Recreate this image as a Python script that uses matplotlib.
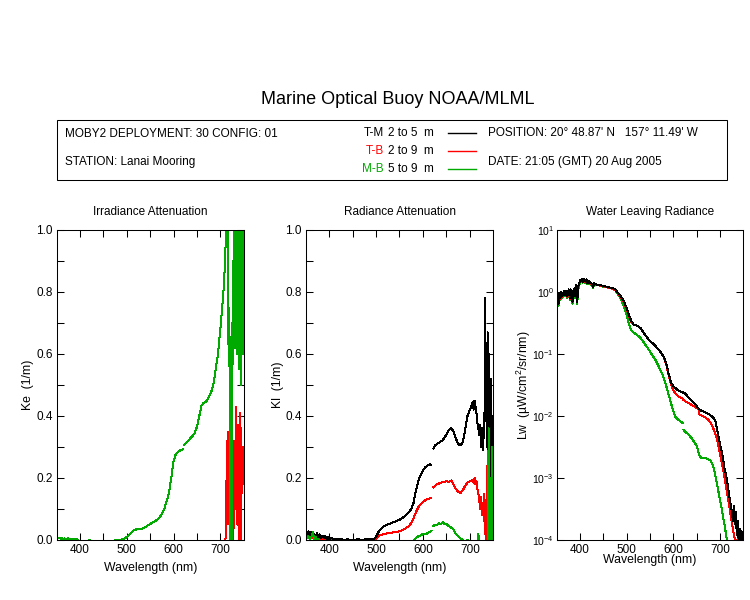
import numpy as np
import matplotlib
matplotlib.use("Agg")
import matplotlib.pyplot as plt
from matplotlib.patches import Rectangle
from matplotlib.ticker import MultipleLocator, NullLocator, FixedLocator

## header text
title = "Marine Optical Buoy NOAA/MLML"
deployment = "MOBY2 DEPLOYMENT: 30 CONFIG: 01"
station = "STATION: Lanai Mooring"
position = "POSITION: 20\u00b0 48.87' N   157\u00b0 11.49' W"
date = "DATE: 21:05 (GMT) 20 Aug 2005"
pair_names = ["T-M", "T-B", "M-B"]
pair_depths = ["2 to 5  m", "2 to 9  m", "5 to 9  m"]

## Ke (irradiance attenuation), 1/m
ke_wl_mb_blue = [350, 353, 356, 359, 362, 365, 368, 371, 374, 377, 380, 383, 386, 389, 392, 395,
	400, 410, 420, 423, 430, 450, 470,
	475, 480, 485, 490, 495, 500, 505, 510, 515, 520, 525, 530, 535, 540, 545, 550, 555, 560,
	565, 570, 575, 580, 585, 590, 595, 600, 605, 610, 615, 620]
ke_mb_blue = [0.008, 0.006, 0.007, 0.004, 0.006, 0.003, 0.005, 0.002, 0.006, 0.003, 0.004, 0.001, 0.004, 0.002, 0.003, 0.001,
	-0.01, -0.01, 0.001, -0.01, -0.01, -0.01, -0.01,
	0.001, 0.001, 0.001, 0.002, 0.005, 0.01, 0.017, 0.025, 0.032, 0.034, 0.034, 0.035, 0.038, 0.042, 0.047, 0.052, 0.056, 0.06,
	0.066, 0.072, 0.085, 0.1, 0.125, 0.15, 0.2, 0.255, 0.278, 0.285, 0.29, 0.292]
ke_wl_mb_red = [622, 630, 640, 645, 650, 655, 660, 665, 670, 675, 680, 685, 690, 695, 700, 705, 708, 710, 712,
	713, 714, 715, 716, 717, 718, 719, 720, 721, 722, 723, 724, 725, 726, 727, 728, 729, 730, 731,
	732, 733, 734, 735, 736, 737, 738, 739, 740, 741, 742, 743, 744, 745, 746, 747, 748, 749, 750]
ke_mb_red = [0.306, 0.318, 0.335, 0.345, 0.365, 0.4, 0.435, 0.443, 0.447, 0.46, 0.475, 0.5, 0.55, 0.6, 0.68, 0.77, 0.83, 0.9, 0.98,
	1.05, 0.98, 1.1, 0.85, 0.7, 0.56, 0.75, 0.6, -0.05, 0.62, 0.45, -0.05, 0.7, 0.55, 0.9, 0.6, 1.1, 0.65, 0.95,
	0.62, 1.05, 0.7, 0.9, 0.6, 1.1, 0.63, 0.85, 0.55, 1.05, 0.7, 0.95, 0.5, 1.1, 0.65, 0.9, 0.6, 1.0, 0.65]
ke_wl_tb_red = [708, 709, 710, 711, 712, 713, 714, 715, 716, 717, 718, 719, 720, 721, 722, 723, 724, 725, 726, 727, 728,
	729, 730, 731, 732, 733, 734, 735, 736, 737, 738, 739, 740, 741, 742, 743, 744, 745, 746, 747, 748, 749, 750]
ke_tb_red = [-0.02, -0.02, -0.02, 0.0, 0.08, 0.19, 0.1, 0.32, 0.05, 0.35, 0.13, 0.2, -0.02, 0.1, 0.02, 0.16, 0.05, 0.2, -0.02, 0.28, 0.08,
	0.32, 0.04, 0.3, 0.1, 0.17, 0.43, 0.05, 0.35, 0.12, 0.37, 0.0, 0.3, 0.18, 0.08, 0.41, -0.02, 0.36, 0.15, 0.3, 0.19, 0.3, 0.18]

## Kl (radiance attenuation), 1/m
kl_wl_blue = [350, 353, 356, 359, 362, 365, 368, 371, 374, 377, 380, 383, 386, 389, 392, 395, 398, 401,
	405, 410, 420, 430, 440, 450, 460, 470, 480, 490,
	495, 500, 505, 510, 515, 520,
	530, 540, 550, 560,
	565, 570, 575, 580, 585, 590, 595, 600, 605, 610, 615, 618]
kl_tm_blue = [0.03, 0.02, 0.028, 0.015, 0.025, 0.012, 0.02, 0.01, 0.022, 0.008, 0.018, 0.006, 0.014, 0.005, 0.012, 0.004, 0.01, 0.003,
	0.006, 0.002, 0.004, 0.001, 0.002, 0.0, 0.002, 0.001, 0.002, 0.002,
	0.003, 0.01, 0.025, 0.035, 0.043, 0.047,
	0.053, 0.059, 0.065, 0.075,
	0.082, 0.09, 0.1, 0.12, 0.16, 0.19, 0.21, 0.225, 0.235, 0.24, 0.244, 0.243]
kl_tb_blue = [0.02, 0.012, 0.018, 0.008, 0.015, 0.006, 0.012, 0.004, 0.01, 0.003, 0.008, 0.002, 0.006, 0.002, 0.005, 0.001, 0.003, 0.001,
	0.002, 0.001, 0.002, 0.0, 0.001, 0.001, 0.0, 0.001, 0.001, 0.001,
	0.002, 0.005, 0.012, 0.016, 0.018, 0.02,
	0.023, 0.025, 0.028, 0.035,
	0.04, 0.045, 0.055, 0.07, 0.09, 0.105, 0.115, 0.122, 0.128, 0.132, 0.135, 0.136]
kl_mb_blue = [0.015, 0.005, 0.012, 0.002, 0.008, 0.025, 0.003, 0.01, -0.005, 0.004, -0.01, -0.01, -0.01, -0.01, -0.01, -0.01, -0.01, -0.01,
	-0.01, -0.01, -0.01, -0.01, -0.01, -0.01, -0.01, -0.01, -0.01, -0.01,
	-0.01, -0.01, -0.01, -0.01, -0.01, -0.01,
	-0.01, -0.01, -0.01, -0.01,
	-0.01, -0.008, -0.005, -0.001, 0.006, 0.012, 0.015, 0.02, 0.018, 0.022, 0.027, 0.03]
kl_wl_red = [622, 626, 630, 634, 638, 642, 646, 650,
	655, 660, 665, 670, 675, 680, 685, 690, 695, 700,
	703, 706,
	708, 710, 712, 714, 716, 718, 720, 722, 724, 726, 728, 730,
	731, 732, 733, 734, 735, 736, 737, 738, 739, 740, 741, 742, 743, 744, 745, 746, 747, 748, 749, 750]
kl_tm_red = [0.295, 0.305, 0.31, 0.313, 0.318, 0.322, 0.33, 0.34,
	0.355, 0.362, 0.35, 0.328, 0.31, 0.305, 0.315, 0.355, 0.4, 0.42,
	0.43, 0.445,
	0.42, 0.45, 0.43, 0.41, 0.38, 0.36, 0.34, 0.37, 0.3, 0.36, 0.29, 0.41,
	0.33, 0.55, 0.78, 0.4, 0.5, 0.3, 0.52, 0.67, 0.25, 0.6, 0.36, 0.5, 0.2, 0.46, 0.52, 0.28, 0.4, 0.2, 0.36, 0.24]
kl_tb_red = [0.17, 0.175, 0.18, 0.182, 0.185, 0.186, 0.188, 0.19,
	0.188, 0.192, 0.18, 0.165, 0.155, 0.152, 0.16, 0.175, 0.185, 0.19,
	0.192, 0.195,
	0.185, 0.2, 0.18, 0.19, 0.165, 0.15, 0.13, 0.1, 0.14, 0.08, 0.12, 0.06,
	0.15, 0.02, 0.1, 0.0, 0.13, 0.05, 0.24, 0.1, 0.18, 0.03, 0.22, 0.14, 0.2, 0.07, 0.28, 0.1, 0.25, 0.03, 0.2, 0.12]
kl_mb_red = [0.045, 0.05, 0.048, 0.055, 0.05, 0.058, 0.05, 0.052,
	0.045, 0.04, 0.035, 0.02, 0.012, 0.005, 0.0, -0.005, 0.0, -0.01,
	-0.01, -0.01,
	-0.01, -0.01, -0.01, -0.01, -0.01, 0.02, -0.01, -0.01, -0.01, -0.01, -0.01, -0.01,
	-0.01, -0.01, -0.01, -0.01, -0.01, -0.01, -0.01, 0.0, 0.05, 0.36, 0.05, 0.2, -0.01, 0.1, 0.03, 0.15, -0.01, 0.3, 0.05, 0.12]

## Lw (water leaving radiance), uW/cm^2/sr/nm
lw_wl_blue = [350, 352, 354, 356, 358, 360, 362, 364, 366, 368, 370, 372, 374, 376, 378, 380, 382, 384,
	386, 388, 390, 392, 394, 396, 398, 400, 402, 404, 406, 408, 410, 412, 414, 416, 418, 420,
	425, 428, 430, 435,
	440, 445, 450, 455, 460, 465, 470, 475, 480, 485, 490, 495, 500, 505, 510, 515, 520, 525, 530,
	535, 540, 545, 550, 555, 560, 565, 570, 575, 580, 585, 590, 595, 600, 605, 610, 615, 620]
lw_tm_blue = [0.75, 0.9, 0.65, 0.95, 0.8, 1.0, 0.85, 0.95, 1.05, 0.9, 1.05, 0.85, 1.0, 1.1, 0.8, 1.1, 0.95, 0.7,
	1.05, 1.15, 0.85, 1.3, 0.7, 1.2, 1.35, 1.55, 1.5, 1.6, 1.45, 1.6, 1.55, 1.45, 1.6, 1.4, 1.5, 1.45,
	1.35, 1.2, 1.4, 1.32,
	1.3, 1.28, 1.25, 1.22, 1.2, 1.17, 1.15, 1.12, 1.0, 0.9, 0.8, 0.68, 0.55, 0.42, 0.34, 0.3, 0.29, 0.28, 0.26,
	0.23, 0.2, 0.18, 0.16, 0.15, 0.14, 0.125, 0.115, 0.1, 0.09, 0.07, 0.048, 0.035, 0.03, 0.028, 0.026, 0.025, 0.024]
lw_tb_blue = [0.72, 0.88, 0.66, 0.93, 0.78, 0.98, 0.84, 0.93, 1.02, 0.88, 1.03, 0.84, 0.98, 1.08, 0.78, 1.08, 0.93, 0.72,
	1.03, 1.12, 0.84, 1.25, 0.72, 1.18, 1.32, 1.52, 1.48, 1.57, 1.43, 1.57, 1.52, 1.43, 1.57, 1.38, 1.48, 1.43,
	1.33, 1.19, 1.38, 1.3,
	1.28, 1.26, 1.24, 1.21, 1.19, 1.16, 1.14, 1.1, 0.98, 0.88, 0.78, 0.66, 0.53, 0.4, 0.33, 0.3, 0.29, 0.28, 0.26,
	0.23, 0.2, 0.18, 0.16, 0.15, 0.14, 0.125, 0.115, 0.1, 0.088, 0.068, 0.045, 0.032, 0.026, 0.023, 0.021, 0.02, 0.019]
lw_mb_blue = [0.65, 0.8, 0.6, 0.85, 0.75, 0.9, 0.8, 0.88, 0.95, 0.85, 0.95, 0.8, 0.92, 1.0, 0.75, 1.0, 0.9, 0.65,
	0.95, 1.05, 0.8, 1.1, 0.65, 1.1, 1.25, 1.4, 1.45, 1.5, 1.42, 1.5, 1.45, 1.4, 1.48, 1.35, 1.42, 1.4,
	1.3, 1.15, 1.35, 1.3,
	1.28, 1.25, 1.22, 1.2, 1.18, 1.15, 1.12, 1.08, 0.95, 0.85, 0.7, 0.55, 0.42, 0.3, 0.24, 0.22, 0.21, 0.195, 0.18,
	0.16, 0.14, 0.125, 0.11, 0.095, 0.085, 0.072, 0.06, 0.05, 0.04, 0.03, 0.022, 0.016, 0.012, 0.0095, 0.0088, 0.0082, 0.0077]
lw_wl_red = [622, 625, 630, 635, 640, 645, 650, 653, 655, 656, 660, 665, 670, 675, 680, 685, 690, 695,
	700, 705, 710, 715, 720, 725, 728, 730, 732, 734, 736, 738, 740, 742, 744, 746, 748, 750]
lw_tm_red = [0.024, 0.023, 0.021, 0.019, 0.0175, 0.016, 0.0145, 0.0135, 0.013, 0.0128, 0.0122, 0.0118, 0.0113, 0.0108, 0.0102, 0.0095, 0.0085, 0.0055,
	0.0035, 0.0024, 0.0014, 0.00095, 0.0005, 0.0003, 0.0002, 0.00035, 0.00018, 0.00028, 0.00012, 0.0002, 0.0001, 0.00015, 0.00009, 0.00014, 0.0001, 0.00012]
lw_tb_red = [0.018, 0.0175, 0.0165, 0.0158, 0.015, 0.0143, 0.0135, 0.013, 0.0125, 0.0105, 0.0102, 0.0098, 0.0093, 0.0087, 0.0078, 0.0065, 0.0052, 0.0038,
	0.0025, 0.0016, 0.001, 0.0006, 0.00035, 0.0002, 0.00015, 0.00012, 0.0001, 0.00009, 0.0001, 0.00008, 0.00011, 0.00009, 0.0001, 0.00008, 0.00009, 0.0001]
lw_mb_red = [0.006, 0.0056, 0.0052, 0.0048, 0.0043, 0.0038, 0.0033, 0.0028, 0.0024, 0.0023, 0.0021, 0.0021, 0.0021, 0.002, 0.0019, 0.0016, 0.0011, 0.0007,
	0.00045, 0.00028, 0.00017, 0.0001, 0.00007, 0.00005, 0.00005, 0.00005, 0.00005, 0.00005, 0.00005, 0.00005, 0.00005, 0.00005, 0.00005, 0.00005, 0.00005, 0.00005]


def fx(px):
	return px / 750


def fy(py):
	return 1 - py / 600


def style_axis(ax):
	ax.set_xlim(350, 750)
	ax.xaxis.set_major_locator(FixedLocator([400, 500, 600, 700]))
	ax.xaxis.set_minor_locator(FixedLocator([400, 450, 500, 550, 600, 650, 700]))
	ax.tick_params(
		which="both",
		direction="in",
		top=True,
		right=True,
		length=5,
		width=0.75,
		labelsize=8.5,
		pad=3)
	for sp in ax.spines.values():
		sp.set_linewidth(0.75)


if __name__ == "__main__":

	plt.rcParams["font.family"] = ["Liberation Sans", "DejaVu Sans"]
	plt.rcParams["mathtext.fontset"] = "custom"
	plt.rcParams["mathtext.rm"] = "Liberation Sans"
	plt.rcParams["mathtext.it"] = "Liberation Sans:italic"
	plt.rcParams["lines.antialiased"] = False

	colors = ["black", "#ff0000", "#00aa00"]
	lw = 0.72
	fs = 8.5

	fig = plt.figure(
		figsize=(7.5, 6),
		dpi=100)

	## header
	fig.text(fx(398), fy(100), title, ha="center", va="center", fontsize=13)
	fig.patches.append(Rectangle(
		(fx(57), fy(180)),
		fx(727) - fx(57),
		fy(120) - fy(180),
		transform=fig.transFigure,
		fill=False,
		linewidth=0.75,
		edgecolor="black"))
	fig.text(fx(65), fy(134), deployment, va="center", fontsize=fs)
	fig.text(fx(65), fy(162.5), station, va="center", fontsize=fs)
	fig.text(fx(488), fy(133), position, va="center", fontsize=fs)
	fig.text(fx(488), fy(162.5), date, va="center", fontsize=fs)

	## pair key drawn in an invisible overlay axes (pixel coords)
	key = fig.add_axes([0, 0, 1, 1], facecolor="none")
	key.set_xlim(0, 750)
	key.set_ylim(600, 0)
	key.set_axis_off()
	for name, depth, col, py in zip(pair_names, pair_depths, colors, [132.5, 150.5, 168.5]):
		key.text(384, py, name, color=col, ha="right", va="center", fontsize=fs)
		key.text(388, py, depth, color="black", ha="left", va="center", fontsize=fs)
		key.plot(
			[448, 476],
			[py, py],
			color=col,
			linewidth=1.0,
			antialiased=True)

	## panels
	ax1 = fig.add_axes([fx(56.7), fy(540), 187 / 750, 310 / 600])
	ax2 = fig.add_axes([fx(305.7), fy(540), 187.6 / 750, 310 / 600])
	ax3 = fig.add_axes([fx(556.7), fy(540), 186.6 / 750, 310 / 600])

	## Ke
	ax1.plot(ke_wl_tb_red, ke_tb_red, color=colors[1], linewidth=lw)
	ax1.plot(ke_wl_mb_blue, ke_mb_blue, color=colors[2], linewidth=lw)
	ax1.plot(ke_wl_mb_red, ke_mb_red, color=colors[2], linewidth=lw)
	ax1.set_ylim(0, 1)

	## Kl
	ax2.plot(kl_wl_blue, kl_tb_blue, color=colors[1], linewidth=lw)
	ax2.plot(kl_wl_red, kl_tb_red, color=colors[1], linewidth=lw)
	ax2.plot(kl_wl_blue, kl_tm_blue, color=colors[0], linewidth=lw)
	ax2.plot(kl_wl_red, kl_tm_red, color=colors[0], linewidth=lw)
	ax2.plot(kl_wl_blue, kl_mb_blue, color=colors[2], linewidth=lw)
	ax2.plot(kl_wl_red, kl_mb_red, color=colors[2], linewidth=lw)
	ax2.set_ylim(0, 1)

	## Lw
	ax3.plot(lw_wl_blue, lw_mb_blue, color=colors[2], linewidth=lw)
	ax3.plot(lw_wl_red, lw_mb_red, color=colors[2], linewidth=lw)
	ax3.plot(lw_wl_blue, lw_tb_blue, color=colors[1], linewidth=lw)
	ax3.plot(lw_wl_red, lw_tb_red, color=colors[1], linewidth=lw)
	ax3.plot(lw_wl_blue, lw_tm_blue, color=colors[0], linewidth=lw)
	ax3.plot(lw_wl_red, lw_tm_red, color=colors[0], linewidth=lw)
	ax3.set_yscale("log")
	ax3.set_ylim(1e-4, 1e1)

	for ax in [ax1, ax2]:
		ax.yaxis.set_major_locator(MultipleLocator(0.2))
		ax.yaxis.set_minor_locator(MultipleLocator(0.1))
		ax.yaxis.set_major_formatter(matplotlib.ticker.FormatStrFormatter("%.1f"))
	ax3.yaxis.set_major_locator(FixedLocator([1e-4, 1e-3, 1e-2, 1e-1, 1e0, 1e1]))
	ax3.yaxis.set_minor_locator(NullLocator())

	titles = ["Irradiance Attenuation", "Radiance Attenuation", "Water Leaving Radiance"]
	ylabels = ["Ke  (1/m)", "Kl  (1/m)", "Lw  (\u00b5W/cm$^2$/sr/nm)"]
	ylab_x = [-0.152, -0.146, -0.178]
	xlab_y = [-0.09, -0.09, -0.064]
	for ax, t, yl, lx, ly in zip([ax1, ax2, ax3], titles, ylabels, ylab_x, xlab_y):
		style_axis(ax)
		ax.text(
			0.5,
			1 + 18 / 310,
			t,
			transform=ax.transAxes,
			ha="center",
			va="center",
			fontsize=fs)
		ax.set_xlabel(
			"Wavelength (nm)",
			fontsize=8.8,
			va="center")
		ax.xaxis.set_label_coords(0.5, ly)
		ax.set_ylabel(
			yl,
			fontsize=8.8,
			va="center")
		ax.yaxis.set_label_coords(lx, 0.5)
	ax3.tick_params(axis="y", labelsize=7.5, pad=2)

	fig.savefig("out.png", dpi=100)
	plt.close()
